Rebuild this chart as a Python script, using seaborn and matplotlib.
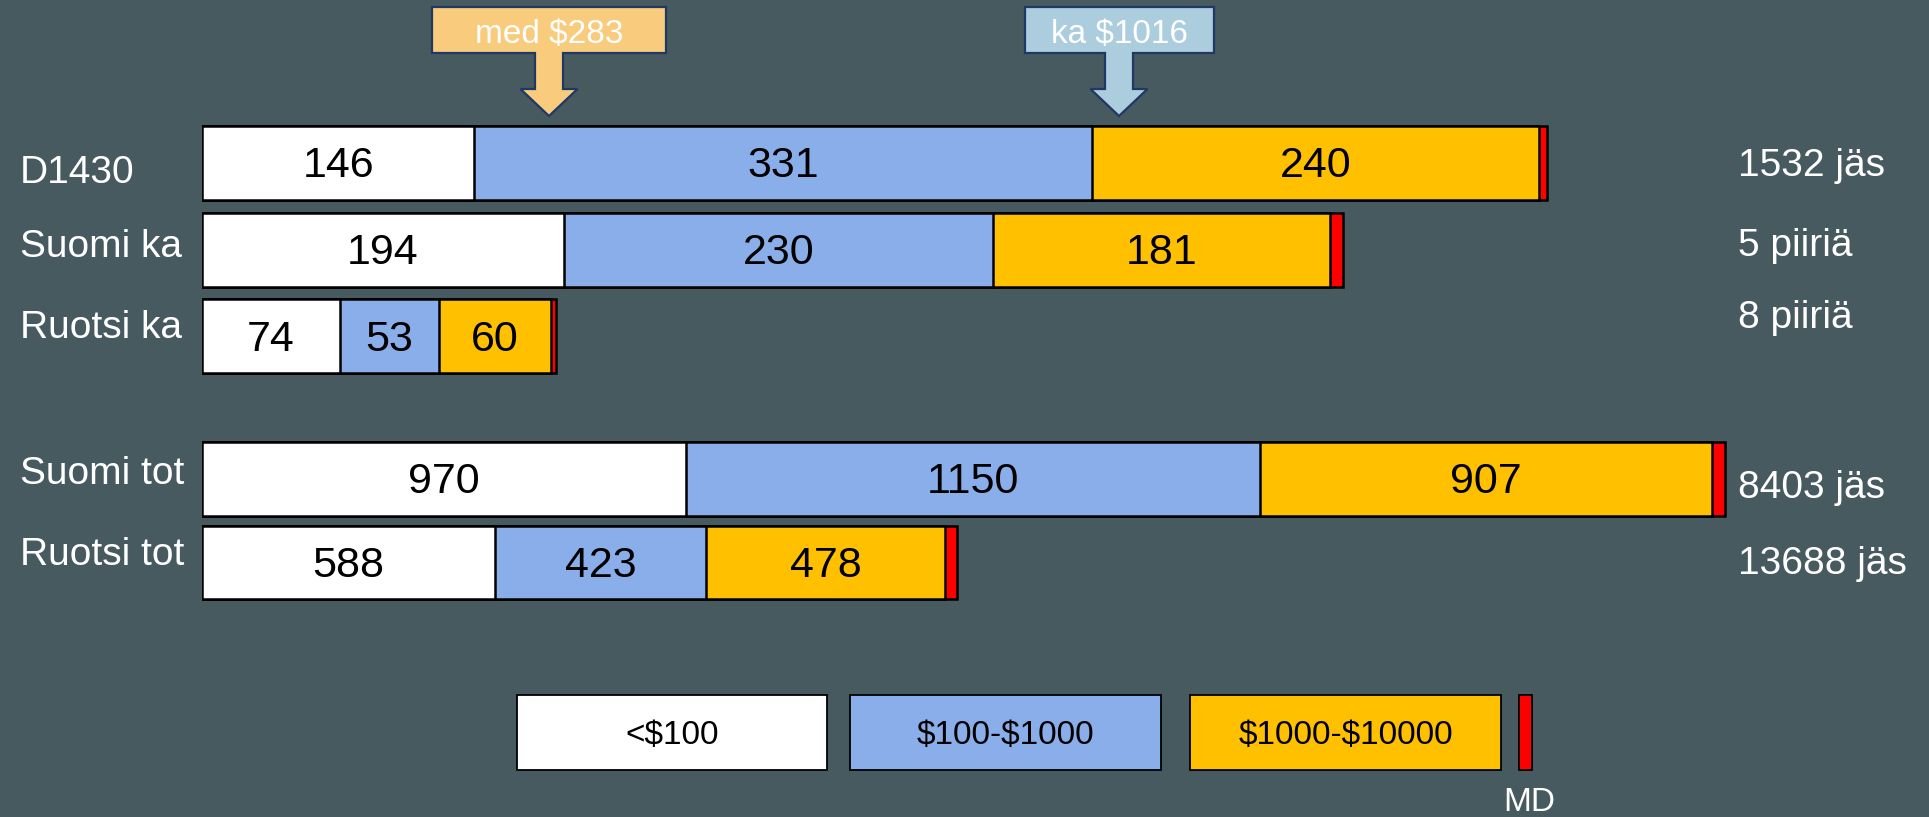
import pandas as pd
import matplotlib.pyplot as plt
from matplotlib.patches import Rectangle, Polygon
import seaborn as sns

# --- data ---
rows = ['D1430', 'Suomi ka', 'Ruotsi ka', 'Suomi tot', 'Ruotsi tot']
panel = ['ka', 'ka', 'ka', 'tot', 'tot']
under_100 = [146, 194, 74, 970, 588]
from_100 = [331, 230, 53, 1150, 423]
from_1000 = [240, 181, 60, 907, 478]
md = [4, 7, 3, 26, 24]
members = ['1532 jäs', '5 piiriä', '8 piiriä', '8403 jäs', '13688 jäs']
legend_labels = ['<$100', '$100-$1000', '$1000-$10000', 'MD']
callout_texts = ['med $283', 'ka $1016']

BG = '#475A5F'
colors = ['#FFFFFF', '#89AEE9', '#FFC000', '#FF0000']
W, H = 1929, 817

sns.set_theme(style='white')
plt.rcParams['font.family'] = ['Liberation Sans', 'DejaVu Sans']
plt.rcParams['text.parse_math'] = False

df = pd.DataFrame({'row': rows, 'panel': panel, 'lo': under_100,
                   'mid': from_100, 'hi': from_1000, 'md': md})
df['c_lo'] = df['lo']
df['c_mid'] = df['c_lo'] + df['mid']
df['c_hi'] = df['c_mid'] + df['hi']
df['c_md'] = df['c_hi'] + df['md']

fig = plt.figure(figsize=(W / 100, H / 100), dpi=100, facecolor=BG)


def fx(x):
    return x / W


def fy(y):
    return 1 - y / H


def px_axes(left, top, width, height):
    return fig.add_axes([fx(left), fy(top + height), width / W, height / H])


# two panels with their own scale (px per unit differs)
panels = [
    ('ka', px_axes(202, 119.6, 1727, 260.25), 1727 / 1.865, 0.853),
    ('tot', px_axes(202, 437.25, 1727, 167), 1727 / 0.499, 0.886),
]

for name, ax, xmax, bw in panels:
    sub = df[df['panel'] == name].reset_index(drop=True)
    # draw cumulative totals from widest to narrowest so they stack
    for col, c in zip(['c_md', 'c_hi', 'c_mid', 'c_lo'], colors[::-1]):
        sns.barplot(data=sub, x=col, y='row', orient='h', color=c,
                    saturation=1, edgecolor='black', linewidth=1.8,
                    width=bw, errorbar=None, ax=ax)
    for i, r in sub.iterrows():
        left = 0
        for seg in ['lo', 'mid', 'hi']:
            ax.annotate(str(r[seg]), (left + r[seg] / 2, i), xytext=(0, -2.5),
                        textcoords='offset points', ha='center', va='center',
                        fontsize=31, color='black')
            left += r[seg]
    ax.set_xlim(0, xmax)
    ax.set_ylim(len(sub) - 0.5, -0.5)
    ax.axis('off')
    ax.patch.set_alpha(0)

# row labels (left) and member counts (right)
label_base = [183, 257, 338, 484, 565]
member_base = [176, 256, 328, 498, 574]
for lab, yb in zip(rows, label_base):
    fig.text(fx(20), fy(yb), lab, ha='left', va='baseline', fontsize=28, color='white')
for lab, yb in zip(members, member_base):
    fig.text(fx(1738), fy(yb), lab, ha='left', va='baseline', fontsize=28, color='white')


# callout boxes with down arrows
def callout(x0, x1, tip_x, text, fill):
    top, bot, head_y, tip_y = 7, 53, 89, 116
    cx = (x0 + x1) / 2
    sw, hw = 14, 28.5
    pts = [(x0, top), (x1, top), (x1, bot), (tip_x + sw, bot), (tip_x + sw, head_y),
           (tip_x + hw, head_y), (tip_x, tip_y), (tip_x - hw, head_y),
           (tip_x - sw, head_y), (tip_x - sw, bot), (x0, bot)]
    poly = Polygon([(fx(a), fy(b)) for a, b in pts], closed=True, facecolor=fill,
                   edgecolor='#1F3864', linewidth=1.6, transform=fig.transFigure)
    fig.add_artist(poly)
    fig.text(fx(cx), fy(42.5), text, ha='center', va='baseline', fontsize=24, color='white')


callout(432, 666, 549, callout_texts[0], '#F9CB7C')
callout(1025, 1214, 1119, callout_texts[1], '#ABCDDE')

# legend
leg_boxes = [(517, 827), (850, 1161), (1190, 1501), (1519, 1532)]
for (x0, x1), lab, c in zip(leg_boxes, legend_labels, colors):
    fig.add_artist(Rectangle((fx(x0), fy(770)), (x1 - x0) / W, 75 / H, facecolor=c,
                             edgecolor='black', linewidth=1.3, transform=fig.transFigure))
    if lab == 'MD':
        fig.text(fx((x0 + x1) / 2 + 4), fy(811), lab, ha='center', va='baseline',
                 fontsize=24, color='white')
    else:
        fig.text(fx((x0 + x1) / 2), fy(744), lab, ha='center', va='baseline',
                 fontsize=24, color='black')

fig.savefig('out.png', dpi=100, facecolor=BG)
